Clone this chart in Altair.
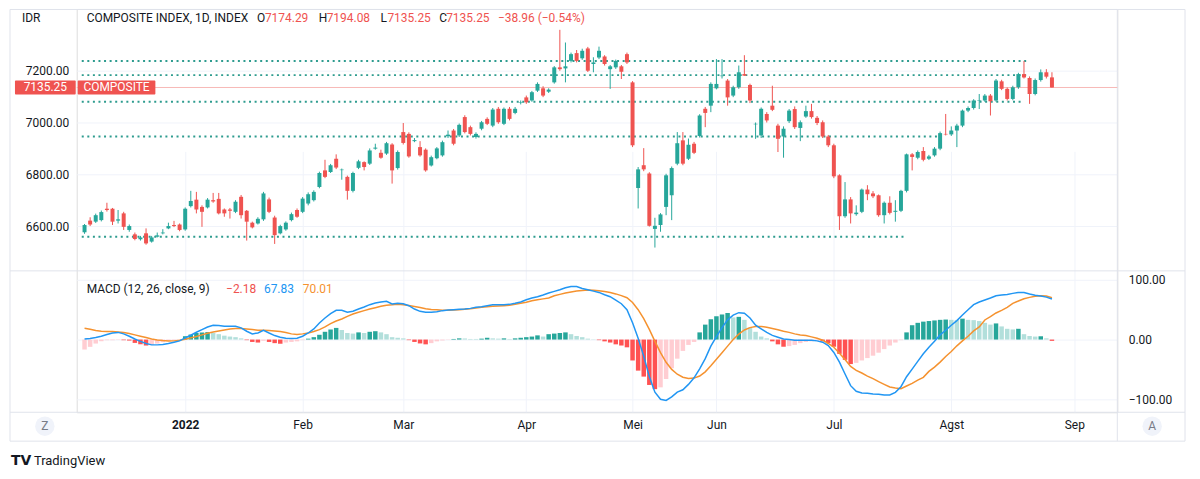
import altair as alt
import pandas as pd

# ---------------- data ----------------
opens = [6576, 6621, 6617, 6623, 6667, 6667, 6621, 6649, 6585, 6568,
         6549, 6572, 6540, 6559, 6572, 6591, 6604, 6606, 6587, 6677,
         6702, 6674, 6672, 6700, 6705, 6664, 6664, 6655, 6713, 6659,
         6613, 6610, 6626, 6703, 6633, 6572, 6587, 6623, 6662, 6655,
         6687, 6700, 6751, 6815, 6809, 6860, 6816, 6790, 6736, 6825,
         6847, 6841, 6899, 6883, 6880, 6915, 6824, 6963, 6956, 6928,
         6905, 6895, 6834, 6862, 6873, 6947, 6969, 6950, 7021, 6982,
         6944, 6976, 7014, 6988, 7053, 6995, 7053, 7037, 7076, 7097,
         7085, 7123, 7132, 7119, 7155, 7213, 7209, 7238, 7268, 7248,
         7286, 7226, 7251, 7255, 7206, 7213, 7217, 7264, 7155, 6747,
         6835, 6803, 6589, 6604, 6674, 6719, 6841, 6931, 6860, 6918,
         6948, 7053, 7065, 7132, 7179, 7162, 7104, 7136, 7187, 7145,
         6993, 6950, 7033, 7065, 6988, 6946, 7005, 7052, 6979, 7023,
         7044, 7018, 7001, 6946, 6912, 6796, 6638, 6703, 6646, 6655,
         6741, 6726, 6719, 6642, 6690, 6655, 6659, 6736, 6877, 6864,
         6890, 6860, 6873, 6899, 6956, 6954, 6969, 6988, 7046, 7056,
         7085, 7085, 7104, 7085, 7159, 7130, 7091, 7136, 7187, 7172,
         7110, 7164, 7194, 7174.29]
highs = [6608, 6634, 6648, 6660, 6690, 6670, 6662, 6655, 6606, 6575,
         6562, 6591, 6562, 6575, 6588, 6613, 6620, 6610, 6672, 6736,
         6732, 6680, 6708, 6728, 6728, 6668, 6670, 6700, 6720, 6662,
         6617, 6634, 6732, 6710, 6640, 6605, 6618, 6652, 6668, 6712,
         6730, 6738, 6810, 6856, 6840, 6877, 6822, 6795, 6810, 6856,
         6850, 6900, 6918, 6895, 6925, 6920, 6892, 6998, 6962, 6940,
         6928, 6900, 6872, 6905, 6930, 6969, 6975, 6996, 7028, 6988,
         6962, 7006, 7020, 7056, 7060, 7058, 7060, 7060, 7085, 7104,
         7122, 7155, 7140, 7132, 7218, 7358, 7309, 7270, 7280, 7285,
         7292, 7252, 7293, 7260, 7222, 7243, 7222, 7270, 7160, 6828,
         6901, 6808, 6632, 6650, 6802, 6830, 6963, 6963, 6938, 6925,
         7032, 7060, 7155, 7245, 7245, 7168, 7142, 7220, 7260, 7150,
         7000, 7058, 7040, 7142, 6995, 6985, 7052, 7062, 7008, 7065,
         7072, 7025, 7008, 6952, 6918, 6800, 6770, 6712, 6680, 6745,
         6758, 6735, 6722, 6695, 6715, 6700, 6740, 6880, 6882, 6892,
         6905, 6875, 6905, 6965, 7033, 6985, 6995, 7050, 7062, 7090,
         7110, 7110, 7110, 7168, 7165, 7135, 7142, 7192, 7238, 7178,
         7170, 7205, 7206, 7194.08]
lows = [6570, 6600, 6612, 6618, 6656, 6604, 6610, 6585, 6578, 6545,
        6544, 6528, 6536, 6556, 6568, 6588, 6596, 6580, 6582, 6672,
        6649, 6597, 6668, 6690, 6645, 6636, 6629, 6650, 6629, 6544,
        6591, 6606, 6620, 6650, 6531, 6568, 6582, 6618, 6632, 6650,
        6680, 6695, 6746, 6785, 6805, 6820, 6779, 6702, 6730, 6820,
        6815, 6836, 6895, 6860, 6875, 6764, 6818, 6915, 6864, 6924,
        6868, 6810, 6830, 6858, 6868, 6940, 6912, 6944, 6958, 6950,
        6938, 6970, 6990, 6982, 6995, 6990, 7008, 7032, 7070, 7072,
        7080, 7118, 7098, 7114, 7150, 7200, 7155, 7232, 7232, 7242,
        7195, 7194, 7245, 7220, 7130, 7207, 7168, 7226, 6905, 6668,
        6812, 6598, 6517, 6578, 6642, 6623, 6835, 6835, 6855, 6878,
        6942, 6982, 7040, 7128, 7170, 7065, 7098, 7130, 7180, 7075,
        6937, 6940, 7000, 7044, 6886, 6864, 6998, 6975, 6928, 7018,
        7015, 6990, 6940, 6905, 6785, 6585, 6632, 6610, 6640, 6650,
        6700, 6708, 6636, 6610, 6645, 6617, 6654, 6730, 6815, 6858,
        6850, 6855, 6868, 6893, 6950, 6948, 6905, 6982, 7040, 7050,
        7052, 7080, 7027, 7080, 7125, 7085, 7086, 7130, 7170, 7072,
        7105, 7158, 7170, 7135.25]
closes = [6604, 6606, 6642, 6654, 6662, 6617, 6626, 6597, 6600, 6550,
          6556, 6533, 6556, 6564, 6575, 6600, 6600, 6585, 6667, 6697,
          6664, 6655, 6702, 6695, 6649, 6649, 6659, 6694, 6642, 6617,
          6595, 6628, 6726, 6655, 6565, 6600, 6613, 6646, 6636, 6706,
          6723, 6732, 6805, 6790, 6835, 6826, 6818, 6736, 6805, 6850,
          6828, 6892, 6903, 6864, 6920, 6815, 6886, 6921, 6869, 6932,
          6873, 6815, 6866, 6900, 6924, 6953, 6918, 6991, 6963, 6956,
          6956, 7001, 6995, 7050, 7001, 7053, 7014, 7053, 7078, 7078,
          7117, 7149, 7104, 7127, 7213, 7206, 7217, 7264, 7238, 7277,
          7200, 7232, 7277, 7226, 7217, 7238, 7196, 7232, 6912, 6819,
          6819, 6601, 6601, 6645, 6796, 6824, 6920, 6841, 6914, 6883,
          7027, 7037, 7149, 7149, 7181, 7097, 7136, 7194, 7181, 7085,
          6995, 7053, 7008, 7049, 6937, 6976, 7046, 6982, 7001, 7044,
          7021, 6998, 6946, 6912, 6792, 6638, 6703, 6649, 6652, 6741,
          6723, 6715, 6642, 6690, 6651, 6659, 6736, 6877, 6867, 6886,
          6856, 6869, 6899, 6959, 6954, 6969, 6988, 7046, 7056, 7085,
          7087, 7104, 7082, 7162, 7130, 7091, 7136, 7187, 7174, 7110,
          7164, 7194, 7177, 7135.25]

macd_line = [1.1, 1.7, 3.4, 5.6, 8.4, 11, 12, 9.5, 5.6, 1,
             -3, -6.6, -8.9, -8.9, -8.3, -6.6, -4.4, -2.2, 2.8, 7.2,
             12.2, 16.7, 21, 23.9, 23.4, 22.2, 22.2, 22.2, 19.5, 13.9,
             9.5, 11, 15.6, 11, 6.7, 3.9, 2.3, 1.7, 2.3, 5.6,
             11, 17.8, 27.8, 36.1, 43.4, 48.9, 48.9, 45.6, 47.3, 51.1,
             54.5, 58.4, 61.1, 62.8, 63.9, 59.5, 60.6, 60.0, 56.7, 51.1,
             47.2, 45.6, 45.6, 46.7, 48.4, 49.5, 50.0, 50.6, 51.1, 52.2,
             53.9, 55.0, 56.7, 58.4, 58.4, 58.4, 58.9, 60.6, 62.8, 66.7,
             69.5, 71.7, 74.5, 77.8, 80.6, 83.4, 86.7, 88.9, 88.9, 85.6,
             83.4, 81.1, 78.9, 75.0, 71.7, 66, 60, 50, 28, 2,
             -28, -62, -88, -100, -102, -96, -88, -84, -75, -64,
             -49, -32, -11, 5, 20, 33, 41, 45, 44, 36,
             24, 18, 12, 7, 4, 1, 0, -1.1, -1.1, -1.1,
             -1.1, -2.2, -4.4, -10, -21.6, -37.8, -57.7, -77.2, -86.6, -89.4,
             -90, -91, -91.6, -92.7, -92.7, -88.3, -78.9, -62.2, -49.4, -36.6,
             -23.9, -12.8, -2.8, 7.8, 15.6, 23.9, 31.7, 41.1, 50, 58.4,
             62.8, 66.1, 69.5, 73.4, 74.5, 75.6, 77.3, 78.9, 78.9, 76.1,
             74, 73, 71, 67.83]
signal_line = [19, 17.3, 15, 13.9, 13.6, 13.4, 12.8, 11.7, 10, 7.8,
               5.6, 3.4, 1.1, -0.6, -1.7, -2.5, -2.2, -1.1, 0.6, 2.8,
               5, 7.8, 10.6, 12.8, 14.5, 16.1, 17.8, 18.4, 18.4, 17.8,
               16.7, 15.6, 15.6, 15, 14.2, 13.4, 11.7, 9.5, 8.4, 9.5,
               11.1, 13.4, 16.7, 21.1, 26.7, 31.1, 34.5, 38.9, 42.8, 45.6,
               48.4, 51.1, 53.4, 55.6, 57.3, 58.1, 59.2, 58.4, 57, 55.3,
               53.6, 51.4, 50.3, 49.7, 48.9, 49.2, 49.5, 50, 50.9, 51.7,
               52.8, 53.9, 54.8, 55.6, 56.1, 56.7, 57.3, 59.2, 60.9, 62.5,
               64.8, 66.7, 68.1, 69.7, 73.4, 75.6, 77.8, 79.7, 81.1, 82,
               82.8, 82.5, 81.8, 80.4, 78.7, 76.4, 73.5, 70, 62, 50,
               35, 17, -3, -22, -38, -50, -58, -63, -65, -64.5,
               -61, -54, -44, -33, -22, -11, 0, 9, 16, 20,
               22, 22, 20.5, 18.5, 16.5, 14, 12, 9.5, 7.8, 6.7,
               4.5, 2.3, -1.1, -6.6, -12.8, -22.8, -33.3, -45, -51.6, -56,
               -61.1, -65.5, -70.5, -75, -79.4, -81.1, -82.2, -77.8, -73.3, -67.8,
               -63.3, -53.3, -46.1, -37.8, -28.3, -20, -10.5, -2.2, 5.6, 14.5,
               21.1, 32.8, 38.4, 44.5, 48.9, 53.9, 60.6, 64.5, 68.4, 70.6,
               72.3, 73.4, 73, 70.01]
histogram = [-16.7, -12.2, -6.7, -2.8, -1.1, -1.1, -0.6, -1.1, -1.7, -5.6,
             -7.8, -10, -8.9, -6.7, -4.4, -2.8, -1.1, -0.6, 5.6, 8.4,
             11, 12, 12.5, 11, 9, 6.5, 5, 4, 2, -1,
             -4, -5, -2, -4, -6, -7, -5, -4, -3, -1,
             1.5, 4, 8, 13, 17, 19.5, 16, 11, 10, 12,
             11, 13, 14, 12, 9, 4, 3, 2, -1, -4,
             -6.5, -8, -6, -3, -1.5, -0.5, 1, 2, 1.8, 1,
             1, 1.5, 3, 2, 1.5, 2, 1, 2, 3, 4,
             5, 7, 5, 9, 10, 11, 12, 9, 6, 4,
             1.5, 0.5, -1, -3, -5, -8, -10, -13, -35, -52,
             -62, -76, -83, -80, -66, -48, -32, -19, -9, -4,
             12, 25, 34, 39, 42, 44.5, 37, 38, 33, 20,
             13, 5, 2, -3, -8, -12, -11, -9, -6, -4,
             -3, -2, -3, -6, -12, -24, -34, -41, -39, -35,
             -31, -27, -22, -16, -10, -5, -1, 12, 24, 28,
             30, 31, 32, 33, 33.5, 33, 32.5, 35, 33, 32.5,
             31, 28, 25, 27, 22, 18, 17, 18, 9, 6,
             5, 5.5, 2, -2.18]

tick_idx = [18, 39, 57, 79, 98, 113, 134, 155, 177]
tick_labels = ["2022", "Feb", "Mar", "Apr", "Mei", "Jun", "Jul", "Agst", "Sep"]
price_ticks = [6600, 6800, 7000, 7200]
macd_ticks = [-100, 0, 100]
level_prices = [7238, 7183, 7080, 6946, 6559]
level_start = [-0.5, -0.5, -0.5, -0.5, -0.5]
level_end = [168.4, 168.8, 168.0, 153.0, 147.0]

title_main = "COMPOSITE INDEX, 1D, INDEX"
ohlc_keys = ["O", "H", "L", "C"]
ohlc_vals = ["7174.29", "7194.08", "7135.25", "7135.25"]
change_txt = "\u221238.96 (\u22120.54%)"
macd_title = "MACD (12, 26, close, 9)"
macd_vals = ["\u22122.18", "67.83", "70.01"]

# ---------------- styling / geometry ----------------
FONT = "Roboto"
TXT = "#131722"
GRID = "#f0f3fa"
FRAME = "#e0e3eb"
UP, DOWN = "#26a69a", "#ef5350"
BLUE, ORANGE = "#2196f3", "#f5922f"
LEVEL = "#2e9c8f"
W, H = 1045, 405

N = min(len(opens), len(highs), len(lows), len(closes))
cdf = pd.DataFrame({"i": list(range(N)), "open": opens[:N], "high": highs[:N],
                    "low": lows[:N], "close": closes[:N]})
cdf["cat"] = ["up" if c >= o else "down" for o, c in zip(cdf["open"], cdf["close"])]

M = min(len(macd_line), len(signal_line), len(histogram))
cats = []
for k in range(M):
    h = histogram[k]
    prev = histogram[k - 1] if k > 0 else None
    if h >= 0:
        cats.append("pos_grow" if (prev is not None and h > prev) else "pos_fall")
    else:
        cats.append("neg_grow" if (prev is not None and h < prev) else "neg_fall")
mdf = pd.DataFrame({"i": list(range(M)), "macd": macd_line[:M], "signal": signal_line[:M],
                    "hist": histogram[:M], "cat": cats})
ldf = pd.DataFrame({"start": level_start, "end": level_end, "price": level_prices})
one = pd.DataFrame({"a": [0]})

x_scale = alt.Scale(domain=[-0.51, 183.8], nice=False, zero=False)
p_scale = alt.Scale(domain=[6430.8, 7438.5], range=[262, 0], nice=False, zero=False)
m_scale = alt.Scale(domain=[-121.7, 113.3], range=[405, 264], nice=False, zero=False)
color_scale = alt.Scale(
    domain=["up", "down", "pos_grow", "pos_fall", "neg_grow", "neg_fall"],
    range=[UP, DOWN, "#26a69a", "#b2dfdb", "#ff5252", "#ffcdd2"])
COLOR = alt.Color("cat:N", scale=color_scale, legend=None)

label_expr = "[" + ",".join("'%s'" % t for t in tick_labels) + "][indexof([" + \
    ",".join(str(t) for t in tick_idx) + "], datum.value)]"
x_axis = alt.Axis(values=tick_idx, labelExpr=label_expr, grid=True, gridColor=GRID,
                  ticks=False, domain=False, labelPadding=7, labelFontSize=12,
                  labelColor=TXT, labelFont=FONT, title=None, orient="bottom",
                  labelFontWeight={"condition": {"test": "datum.value == %d" % tick_idx[0],
                                                 "value": "bold"}, "value": "normal"})
p_axis = alt.Axis(orient="left", values=price_ticks, format=".2f", grid=True, gridColor=GRID,
                  ticks=False, domain=False, labelPadding=8, labelFontSize=12,
                  labelColor=TXT, labelFont=FONT, title=None)
m_axis = alt.Axis(orient="right", values=macd_ticks, format=".2f", grid=True, gridColor=GRID,
                  ticks=False, domain=False, labelPadding=11, labelFontSize=12,
                  labelColor=TXT, labelFont=FONT, title=None)
X = alt.X("i:Q", scale=x_scale, axis=x_axis)

# ---------------- price pane ----------------
base_c = alt.Chart(cdf)
levels = alt.Chart(ldf).mark_rule(strokeDash=[2, 3.6], strokeWidth=2, color=LEVEL).encode(
    x=alt.X("start:Q", scale=x_scale, axis=x_axis), x2="end:Q",
    y=alt.Y("price:Q", scale=p_scale, axis=p_axis))
last_close = closes[N - 1]
price_line = alt.Chart(one).mark_rule(color="#f7b9b7", strokeWidth=1).encode(
    x=alt.value(0), x2=alt.value(W), y=alt.datum(last_close, scale=p_scale))
wicks = base_c.mark_rule(strokeWidth=1).encode(
    x=X, y=alt.Y("low:Q", scale=p_scale, axis=p_axis), y2="high:Q", color=COLOR)
bodies = base_c.mark_bar(size=4).encode(
    x=X, y=alt.Y("open:Q", scale=p_scale, axis=p_axis), y2="close:Q", color=COLOR)
lab_box1 = alt.Chart(one).mark_rect(color=DOWN, yOffset=-7, y2Offset=7, cornerRadius=1).encode(
    x=alt.value(-62), x2=alt.value(-1), y=alt.datum(last_close, scale=p_scale), y2=alt.datum(last_close))
lab_box2 = alt.Chart(one).mark_rect(color=DOWN, yOffset=-7, y2Offset=7, cornerRadius=1).encode(
    x=alt.value(1), x2=alt.value(79), y=alt.datum(last_close, scale=p_scale), y2=alt.datum(last_close))
lab_txt1 = alt.Chart(one).mark_text(color="white", font=FONT, fontSize=12, align="center").encode(
    x=alt.value(-31.5), y=alt.datum(last_close, scale=p_scale), text=alt.value("%.2f" % last_close))
lab_txt2 = alt.Chart(one).mark_text(color="white", font=FONT, fontSize=12, align="center").encode(
    x=alt.value(40), y=alt.datum(last_close, scale=p_scale), text=alt.value("COMPOSITE"))

price_group = alt.layer(levels, price_line, wicks, bodies, lab_box1, lab_box2, lab_txt1, lab_txt2)

# ---------------- MACD pane ----------------
base_m = alt.Chart(mdf)
hist_bars = base_m.mark_bar(size=4.5).encode(
    x=X, y=alt.Y("hist:Q", scale=m_scale, axis=m_axis, stack=None), y2=alt.datum(0), color=COLOR)
macd_l = base_m.mark_line(color=BLUE, strokeWidth=1.5).encode(
    x=X, y=alt.Y("macd:Q", scale=m_scale, axis=m_axis))
sig_l = base_m.mark_line(color=ORANGE, strokeWidth=1.5).encode(
    x=X, y=alt.Y("signal:Q", scale=m_scale, axis=m_axis))
macd_group = alt.layer(hist_bars, sig_l, macd_l)

# ---------------- chrome (frame, separators, legends, buttons) ----------------
def hrule(y, x1=-67, x2=1113):
    return alt.Chart(one).mark_rule(color=FRAME, strokeWidth=1).encode(
        x=alt.value(x1), x2=alt.value(x2), y=alt.value(y))

def vrule(x, y1=0.5, y2=434):
    return alt.Chart(one).mark_rule(color=FRAME, strokeWidth=1).encode(
        x=alt.value(x), y=alt.value(y1), y2=alt.value(y2))

def txt(s, x, y, color=TXT, size=12, weight="normal", align="left", font=FONT):
    return alt.Chart(one).mark_text(color=color, fontSize=size, fontWeight=weight, align=align,
                                    baseline="middle", font=font).encode(
        x=alt.value(x), y=alt.value(y), text=alt.value(s))

frame = [hrule(0.5), hrule(434), vrule(-67), vrule(1113), hrule(263), hrule(405), vrule(1045)]

texts = [txt("IDR", -55, 9), txt(title_main, 10, 9)]
okx = [181, 243, 305, 364]
ovx = [189, 251, 312, 371]
for k in range(4):
    texts.append(txt(ohlc_keys[k], okx[k], 9))
    texts.append(txt(ohlc_vals[k], ovx[k], 9, color=DOWN))
texts.append(txt(change_txt, 423, 9, color=DOWN))
texts.append(txt(macd_title, 10, 281))
texts.append(txt(macd_vals[0], 150, 281, color=DOWN))
texts.append(txt(macd_vals[1], 188, 281, color=BLUE))
texts.append(txt(macd_vals[2], 227, 281, color=ORANGE))

buttons = []
for bx, letter in [(-32, "Z"), (1080, "A")]:
    buttons.append(alt.Chart(one).mark_circle(size=380, color="#f0f3fa", opacity=1).encode(
        x=alt.value(bx), y=alt.value(419)))
    buttons.append(txt(letter, bx, 419, color="#787b86", size=12, align="center"))

logo = [txt("TV", -66, 454, size=14, weight="bold", font="DejaVu Sans"),
        txt("TradingView", -43, 454, size=13)]

chrome = alt.layer(*frame, *buttons)
overlay = alt.layer(*texts, *logo)

chart = alt.layer(chrome, price_group, macd_group, overlay).resolve_scale(y="independent").properties(
    width=W, height=H,
    padding={"left": 69, "top": 0, "right": 75, "bottom": 58},
    autosize=alt.AutoSizeParams(type="none"),
).configure_view(strokeWidth=0).configure(background="white")

chart.save("out.html", embed_options={"renderer": "svg", "actions": False})
